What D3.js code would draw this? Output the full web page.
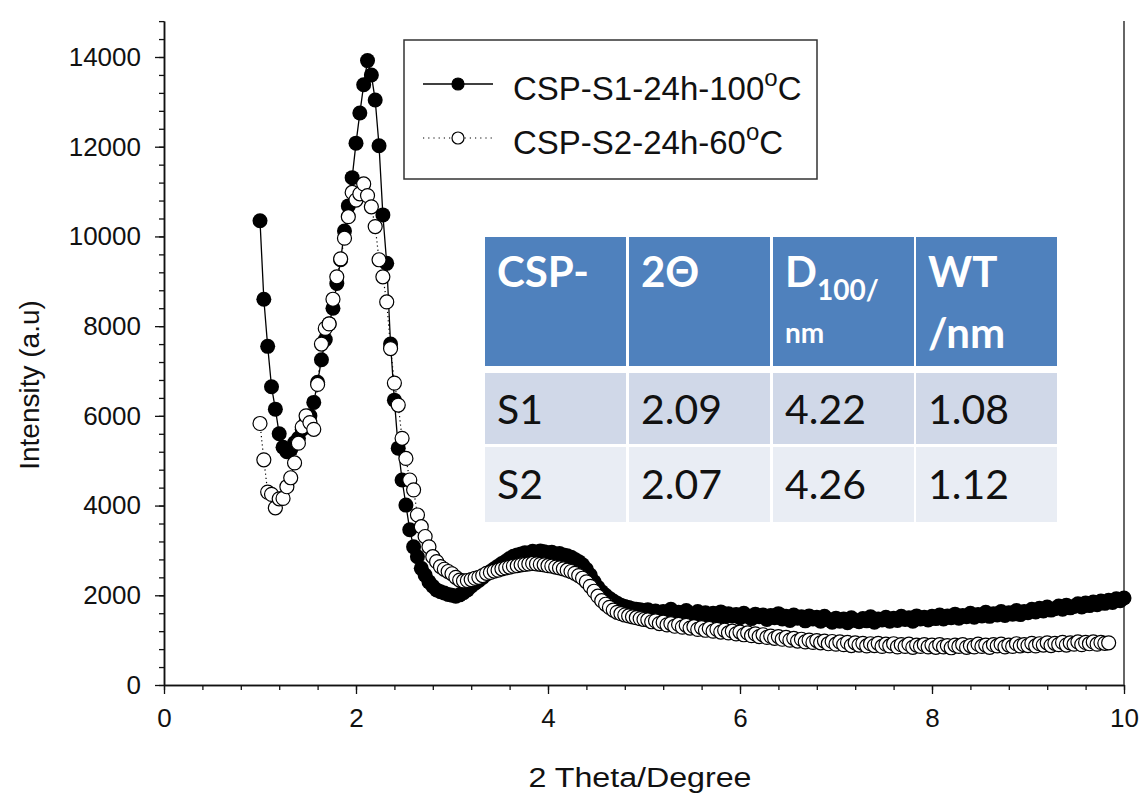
<!DOCTYPE html>
<html>
<head>
<meta charset="utf-8">
<script src="https://cdn.jsdelivr.net/npm/d3@7"></script>
<style>
  body { margin: 0; background: #fff; }
  svg text { font-family: "Liberation Sans", Arial, sans-serif; fill: #111; }
  .tbl text { font-family: Lato, "Open Sans", sans-serif; }
</style>
</head>
<body>
<svg id="chart" width="1142" height="796"></svg>
<script>
// scan grid of the diffractometer: 2 theta from 1.00 in steps of 0.04
const scanStart = 1.0
const scanStep = 0.04

// CSP-S1-24h-100oC, intensities (a.u)
const s1Values = [
  10350, 8600, 7550, 6650, 6150, 5600, 5300, 5200, 5250, 5400,
  5500, 5700, 5850, 6000, 6300, 6750, 7250, 7700, 8050, 8400,
  8950, 9480, 10120, 10680, 11310, 12080, 12750, 13380, 13920, 13600,
  13040, 12020, 10480, 9400, 7600, 6350, 5280, 4570, 4010, 3460,
  3080, 2860, 2600, 2450, 2300, 2200, 2120, 2080, 2050, 2020,
  2000, 1980, 2010, 2060, 2120, 2200, 2270, 2330, 2400, 2470,
  2530, 2590, 2650, 2710, 2760, 2820, 2870, 2900, 2920, 2950,
  2940, 2980, 2960, 2990, 2970, 2950, 2960, 2920, 2930, 2900,
  2880, 2850, 2800, 2750, 2680, 2580, 2450, 2300, 2180, 2080,
  2000, 1930, 1870, 1820, 1780, 1750, 1730, 1700, 1690, 1680,
  1660,
  1680, 1590, 1650, 1560, 1640, 1580, 1690, 1570, 1620, 1540, 1660, 1580,
  1530, 1640, 1570, 1610, 1520, 1600, 1550, 1630, 1510, 1590, 1540, 1570,
  1500, 1600, 1530, 1480, 1580, 1520, 1560, 1460, 1550, 1500, 1590, 1470,
  1530, 1440, 1560, 1490, 1520, 1430, 1540, 1470, 1510, 1420, 1530, 1460, 1400,
  1490, 1420, 1470, 1390, 1500, 1440, 1410, 1480, 1430, 1520, 1400, 1470,
  1450, 1510, 1420, 1490, 1440, 1530, 1460, 1500, 1420, 1540, 1470, 1510, 1450,
  1530, 1480, 1560, 1470, 1540, 1500, 1580, 1490, 1550, 1520, 1600, 1510,
  1570, 1540, 1620, 1530, 1590, 1560, 1640, 1550, 1610, 1580, 1660, 1570, 1640,
  1610, 1690, 1630, 1710, 1650, 1740, 1670, 1700, 1760, 1690, 1780, 1720, 1750,
  1810, 1740, 1830, 1770, 1850, 1790, 1870, 1820, 1890, 1840, 1920, 1880, 1940
]

// CSP-S2-24h-60oC
const s2Values = [
  5830, 5020, 4300, 4250, 3950, 4150, 4160, 4420, 4620, 4950,
  5390, 5750, 6000, 5850, 5700, 6700, 7600, 7950, 8050, 8600,
  9100, 9500, 9960, 10440, 10980, 10810, 10950, 11170, 10910, 10660,
  10220, 9480, 9100, 8540, 7500, 6730, 6240, 5500, 5050, 4570,
  4350, 3790, 3530, 3310, 3080, 2860, 2750, 2640, 2580, 2530,
  2480, 2400, 2340, 2320, 2330, 2350, 2380, 2400, 2440, 2490,
  2510, 2540, 2560, 2590, 2610, 2630, 2650, 2660, 2680, 2690,
  2700, 2710, 2700, 2690, 2680, 2660, 2650, 2630, 2610, 2590,
  2560, 2530, 2490, 2440, 2380, 2300, 2200, 2090, 1980, 1880,
  1800, 1730, 1670, 1620, 1590, 1560, 1540, 1520, 1500, 1480,
  1460,
  1450, 1410, 1430, 1370, 1400, 1340, 1370, 1310, 1350, 1290, 1330, 1270,
  1300, 1240, 1280, 1220, 1260, 1200, 1240, 1180, 1220, 1160, 1200, 1140,
  1180, 1120, 1160, 1100, 1140, 1080, 1120, 1060, 1090, 1040, 1080, 1020,
  1060, 1000, 1040, 980, 1020, 960, 1000, 950, 990, 940, 980, 920, 970,
  910, 960, 900, 950, 880, 940, 890, 930, 870, 920, 880, 930,
  860, 910, 870, 920, 850, 900, 860, 910, 840, 890, 860, 900, 850,
  890, 840, 900, 850, 880, 830, 890, 860, 900, 840, 880, 850,
  910, 860, 890, 840, 900, 870, 910, 850, 890, 860, 920, 870, 900,
  880, 930, 870, 920, 890, 940, 880, 930, 900, 950, 890,
  940, 910, 960, 900, 950, 920, 960, 910, 950, 930, 940
]

const seriesNames = ["CSP-S1-24h-100", "CSP-S2-24h-60"]

// inset table
const tableHeader = ["CSP-", "2\u0398", "D", "WT"]
const tableRows = [
  ["S1", "2.09", "4.22", "1.08"],
  ["S2", "2.07", "4.26", "1.12"]
]

const xTicks = [0, 2, 4, 6, 8, 10]
const yTicks = [0, 2000, 4000, 6000, 8000, 10000, 12000, 14000]

const svg = d3.select("#chart")

const x = d3.scaleLinear().domain([0, 10]).range([164, 1124])
const y = d3.scaleLinear().domain([0, 14000]).range([685, 57])
const yTop = 14800

function toPoints(values) {
  return values.map((v, i) => ({ t: scanStart + i * scanStep, v: v }))
}
const s1 = toPoints(s1Values)
const s2 = toPoints(s2Values)

// axes: minor ticks first, then majors with labels
const xMinor = d3.range(0, 26).map(k => k * 0.4)
const yMinor = d3.range(0, 38).map(k => k * 400)

svg.append("g")
  .attr("transform", "translate(0,685)")
  .call(d3.axisBottom(x).tickValues(xMinor).tickSize(5).tickSizeOuter(0).tickFormat(""))
svg.append("g")
  .attr("class", "xaxis")
  .attr("transform", "translate(0,685)")
  .call(d3.axisBottom(x).tickValues(xTicks).tickSize(9).tickSizeOuter(0).tickPadding(15))

const yAxisScale = y.copy().domain([0, yTop]).range([685, y(yTop)])
svg.append("g")
  .attr("transform", "translate(164,0)")
  .call(d3.axisLeft(yAxisScale).tickValues(yMinor).tickSize(5).tickSizeOuter(0).tickFormat(""))
svg.append("g")
  .attr("class", "yaxis")
  .attr("transform", "translate(164,0)")
  .call(d3.axisLeft(yAxisScale).tickValues(yTicks).tickSize(9).tickSizeOuter(0).tickPadding(14).tickFormat(d3.format("d")))

svg.selectAll(".domain").attr("stroke", "#111").attr("stroke-width", 1.5)
svg.selectAll(".tick line").attr("stroke", "#111").attr("stroke-width", 1.3)
svg.selectAll(".xaxis text, .yaxis text").attr("font-size", 26).attr("fill", "#111")

// right frame line
svg.append("line")
  .attr("x1", x(10)).attr("x2", x(10))
  .attr("y1", y(0)).attr("y2", y(yTop))
  .attr("stroke", "#333").attr("stroke-width", 1.5)

svg.append("text")
  .attr("transform", "translate(640,787) scale(1.15,1)")
  .attr("text-anchor", "middle")
  .attr("font-size", 28)
  .text("2 Theta/Degree")

svg.append("text")
  .attr("transform", "translate(39,385) rotate(-90)")
  .attr("text-anchor", "middle")
  .attr("font-size", 28)
  .text("Intensity (a.u)")

// lines
const line = d3.line().x(d => x(d.t)).y(d => y(d.v))
svg.append("path").datum(s1).attr("d", line)
  .attr("fill", "none").attr("stroke", "#000").attr("stroke-width", 1.3)
svg.append("path").datum(s2).attr("d", line)
  .attr("fill", "none").attr("stroke", "#000").attr("stroke-width", 1.2)
  .attr("stroke-dasharray", "1.2,3")

// markers
svg.append("g").selectAll("circle")
  .data(s1).enter().append("circle")
  .attr("cx", d => x(d.t)).attr("cy", d => y(d.v))
  .attr("r", 7.5)
  .attr("fill", "#000")
svg.append("g").selectAll("circle")
  .data(s2).enter().append("circle")
  .attr("cx", d => x(d.t)).attr("cy", d => y(d.v))
  .attr("r", 7)
  .attr("fill", "#fff").attr("stroke", "#000").attr("stroke-width", 1.2)

// legend
const legend = svg.append("g")
legend.append("rect")
  .attr("x", 404).attr("y", 40).attr("width", 413).attr("height", 139)
  .attr("fill", "#fff").attr("stroke", "#333").attr("stroke-width", 1.5)

const legendRows = [
  { name: seriesNames[0], ly: 84, filled: true },
  { name: seriesNames[1], ly: 138, filled: false }
]
legendRows.forEach(r => {
  legend.append("line")
    .attr("x1", 423).attr("x2", 493).attr("y1", r.ly).attr("y2", r.ly)
    .attr("stroke", "#000").attr("stroke-width", r.filled ? 1.3 : 1.2)
    .attr("stroke-dasharray", r.filled ? null : "1.2,4")
  legend.append("circle")
    .attr("cx", 458).attr("cy", r.ly).attr("r", 6)
    .attr("fill", r.filled ? "#000" : "#fff")
    .attr("stroke", "#000").attr("stroke-width", 1.2)
  const t = legend.append("text")
    .attr("x", 513).attr("y", r.ly + 16)
    .attr("font-size", 33)
  t.append("tspan").text(r.name)
  t.append("tspan").attr("font-size", 24).attr("dy", -14).text("o")
  t.append("tspan").attr("dy", 14).text("C")
})

// inset table
const tbl = svg.append("g").attr("class", "tbl")
const colX = [485, 629, 773, 916]
const colW = 141
const headTop = 237, headH = 129
const rowTop = [373, 447], rowH = [71, 75]
const rowFill = ["#d0d8e8", "#e9edf4"]
const pad = 12

colX.forEach(cx => {
  tbl.append("rect").attr("x", cx).attr("y", headTop).attr("width", colW).attr("height", headH)
    .attr("fill", "#4f81bd")
})
tableRows.forEach((row, ri) => {
  row.forEach((cell, ci) => {
    tbl.append("rect").attr("x", colX[ci]).attr("y", rowTop[ri]).attr("width", colW).attr("height", rowH[ri])
      .attr("fill", rowFill[ri])
    tbl.append("text")
      .attr("x", colX[ci] + pad).attr("y", rowTop[ri] + (ri === 0 ? 51 : 52))
      .attr("font-size", 41).attr("fill", "#111")
      .text(cell)
  })
})

const headText = (cx, ty, size, txt) => tbl.append("text")
  .attr("x", cx).attr("y", ty)
  .attr("font-size", size).attr("font-weight", "bold")
  .style("fill", "#fff")
  .text(txt)
headText(colX[0] + pad, 287, 42, tableHeader[0])
headText(colX[1] + pad, 287, 42, tableHeader[1])
const dt = headText(colX[2] + pad, 287, 42, tableHeader[2])
dt.append("tspan").attr("font-size", 28).attr("dy", 13).text("100/")
headText(colX[2] + pad, 343, 28, "nm")
headText(colX[3] + pad, 287, 42, tableHeader[3])
headText(colX[3] + pad, 348, 42, "/nm")
</script>
</body>
</html>
